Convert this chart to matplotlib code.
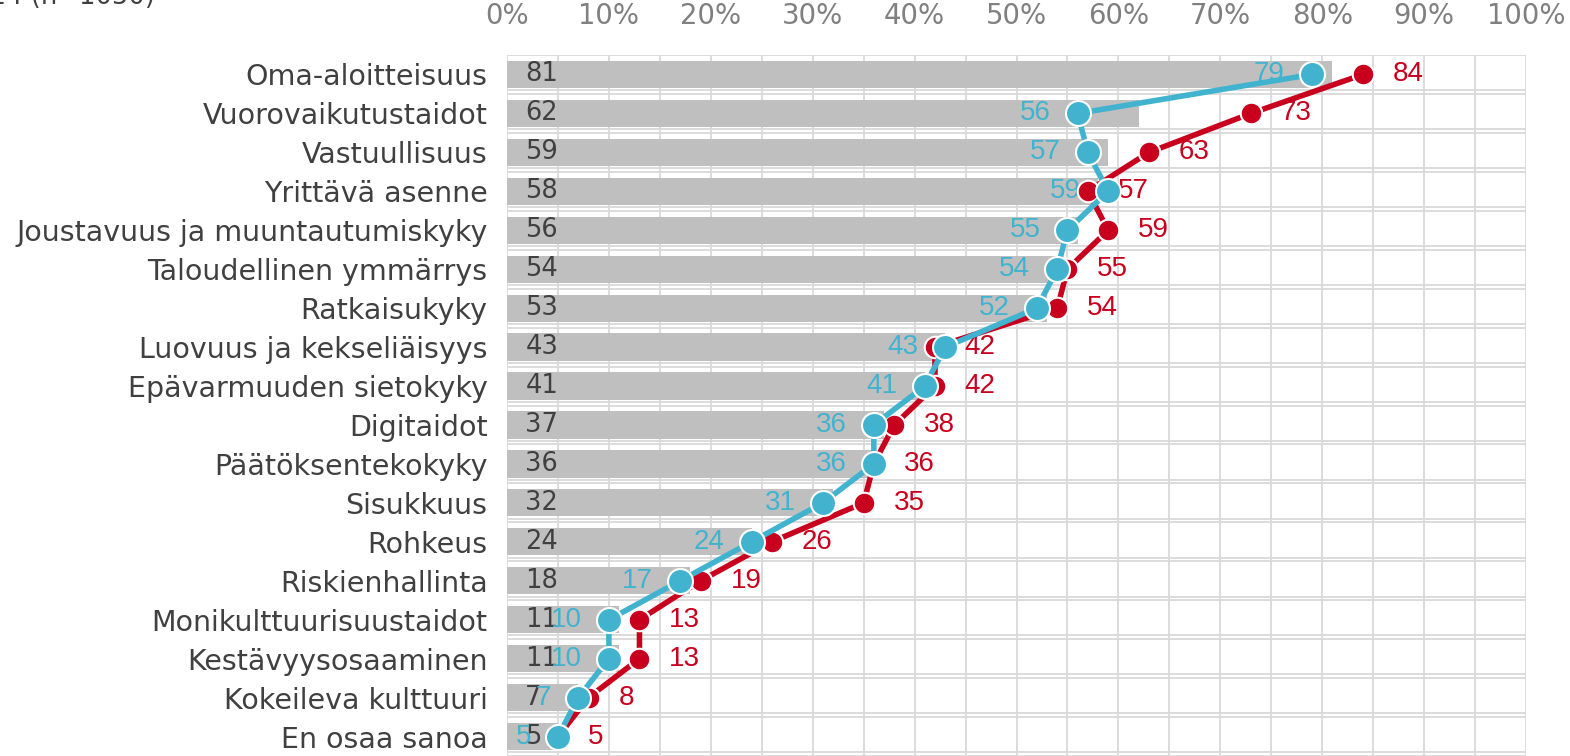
import numpy as np
import matplotlib.pyplot as plt

categories = [
    "Oma-aloitteisuus", "Vuorovaikutustaidot", "Vastuullisuus", "Yrittävä asenne",
    "Joustavuus ja muuntautumiskyky", "Taloudellinen ymmärrys", "Ratkaisukyky",
    "Luovuus ja kekseliäisyys", "Epävarmuuden sietokyky", "Digitaidot",
    "Päätöksentekokyky", "Sisukkuus", "Rohkeus", "Riskienhallinta",
    "Monikulttuurisuustaidot", "Kestävyysosaaminen", "Kokeileva kulttuuri",
    "En osaa sanoa",
]
bar_values = [81, 62, 59, 58, 56, 54, 53, 43, 41, 37, 36, 32, 24, 18, 11, 11, 7, 5]
blue_values = [79, 56, 57, 59, 55, 54, 52, 43, 41, 36, 36, 31, 24, 17, 10, 10, 7, 5]
red_values = [84, 73, 63, 57, 59, 55, 54, 42, 42, 38, 36, 35, 26, 19, 13, 13, 8, 5]
top_ticks = list(range(0, 101, 10))
title_text = "2024 (n=1050)"

BAR = "#BFBFBF"
BLUE = "#41B3CF"
RED = "#C8001E"
GRID = "#D9D9D9"
DARK = "#404040"

plt.rcParams['font.family'] = ['DejaVu Sans']
LABEL_FONT = ['Liberation Sans', 'DejaVu Sans']

fig = plt.figure(figsize=(15.7, 7.56), dpi=100)
ax = fig.add_axes([507 / 1570, 0.0, (1526 - 507) / 1570, 1 - 55 / 756])

n = len(categories)
y = np.arange(n)

# grid: vertical every 5 %, horizontal doubled lines at category borders
for gx in range(0, 101, 5):
    ax.axvline(gx, color=GRID, lw=1.3, zorder=0)
for k in range(n + 1):
    ax.axhline(k - 0.5, color=GRID, lw=1.3, zorder=0)
    if k > 0:
        ax.axhline(k - 0.5 - 0.095, color=GRID, lw=1.3, zorder=0)

ax.barh(y, bar_values, height=0.7, color=BAR, zorder=1)
for yi, v in zip(y, bar_values):
    ax.text(1.8, yi, str(v), ha="left", va="center", fontsize=18.5, color=DARK, zorder=2)

ax.plot(red_values, y, color=RED, lw=4, marker="o", ms=15.5,
        mfc=RED, mec="white", mew=1.5, zorder=4)
ax.plot(blue_values, y, color=BLUE, lw=4, marker="o", ms=18,
        mfc=BLUE, mec="white", mew=1.5, zorder=5)

for yi, v in zip(y, blue_values):
    ax.annotate(str(v), (v, yi), xytext=(-19.5, 0), textcoords="offset points",
                ha="right", va="center", fontsize=20, color=BLUE, zorder=3,
                family=LABEL_FONT)
for yi, v in zip(y, red_values):
    ax.annotate(str(v), (v, yi), xytext=(21.5, 0), textcoords="offset points",
                ha="left", va="center", fontsize=20, color=RED, zorder=3,
                family=LABEL_FONT)

ax.set_xlim(0, 100)
ax.set_ylim(n - 0.5, -0.5)
ax.set_yticks(y)
ax.set_yticklabels(categories, fontsize=20.5, color=DARK)
ax.tick_params(axis="y", length=0, pad=14)

ax.xaxis.tick_top()
ax.set_xticks(top_ticks)
ax.set_xticklabels([f"{t}%" for t in top_ticks], fontsize=19.8, color="#808080")
ax.tick_params(axis="x", length=0, pad=18)

for s in ax.spines.values():
    s.set_visible(False)

fig.text(155 / 1570, 1 - 4 / 756, title_text, ha="right", va="baseline",
         fontsize=18.5, color=DARK)

fig.savefig("out.png", dpi=100)
